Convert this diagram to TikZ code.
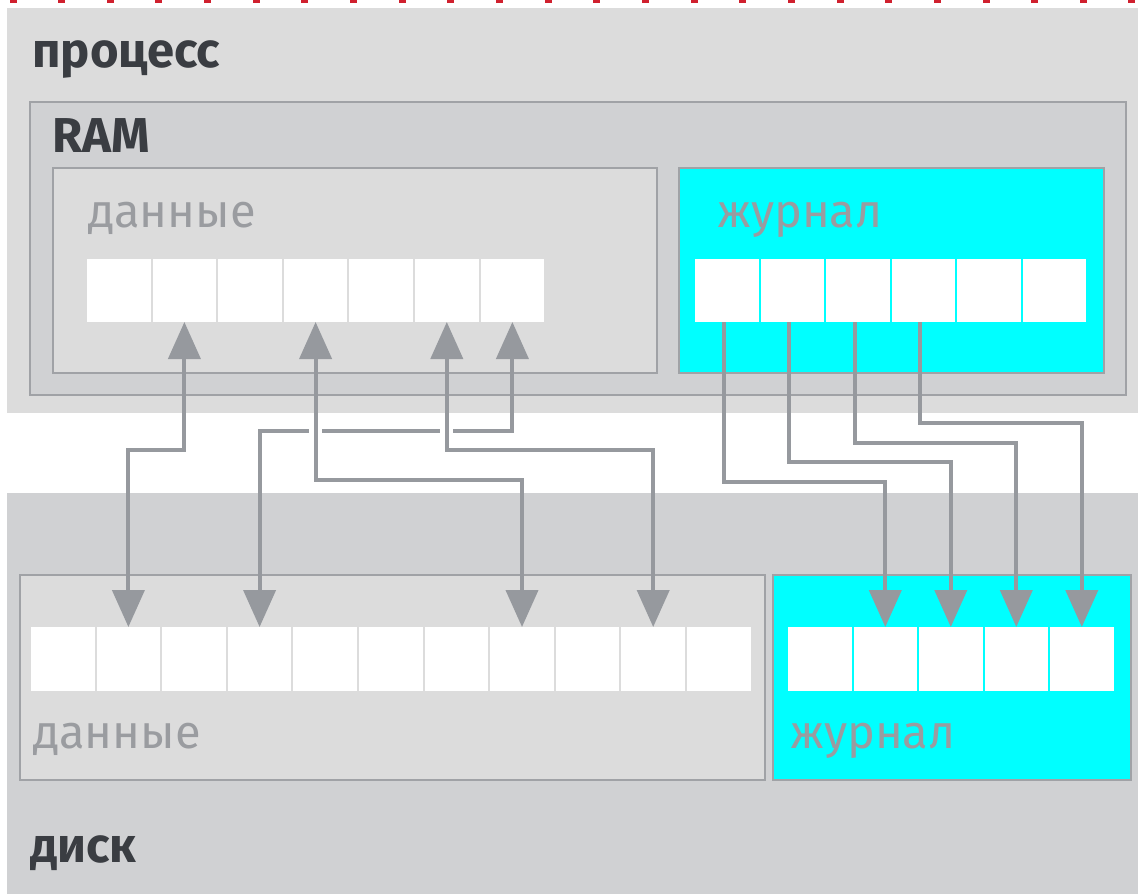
\documentclass[tikz,border=0pt]{standalone}
\usepackage{fontspec}
\setmainfont{Fira Sans}
\usetikzlibrary{arrows.meta}
\definecolor{procbg}{HTML}{DCDCDC}
\definecolor{rambg}{HTML}{D0D1D3}
\definecolor{boxline}{HTML}{A0A2A6}
\definecolor{arrowc}{HTML}{96999E}
\definecolor{darktext}{HTML}{3A3D42}
\definecolor{greytext}{HTML}{9A9CA0}
\definecolor{cyanbox}{HTML}{00FFFF}
\definecolor{reddot}{HTML}{D0202E}
\tikzset{
  area/.style={anchor=north west, inner sep=0pt, outer sep=0pt, draw=none},
  framebox/.style={anchor=north west, inner sep=0pt, outer sep=0pt, draw=boxline, line width=2pt},
  cell/.style={anchor=north west, inner sep=0pt, outer sep=0pt, fill=white, minimum width=63.6pt, minimum height=63pt},
  title/.style={anchor=base west, inner sep=0pt, text=darktext, font=\fontsize{49}{54}\selectfont\bfseries},
  sublabel/.style={anchor=base west, inner sep=0pt, text=greytext, font=\fontsize{47}{52}\selectfont},
  conn/.style={draw=arrowc, line width=4pt},
  halo/.style={draw=white, line width=13pt}
}
\begin{document}
\begin{tikzpicture}[x=1pt,y=-1pt]
\useasboundingbox (0,0) rectangle (1138,894);
\fill[white] (0,0) rectangle (1138,894);
% red dotted top border
\foreach \i in {0,...,23}
  \fill[reddot] ({13+\i*48.65-3.5},0) rectangle ++(7,2.5);
% process area
\node[area, fill=procbg, minimum width=1131pt, minimum height=405pt] (proc) at (7,8) {};
\node[title] (proclabel) at (32,67) {процесс};
% RAM
\node[framebox, fill=rambg, minimum width=1096pt, minimum height=293pt] (ram) at (30,102) {};
\node[title] (ramlabel) at (52,152) {RAM};
\node[framebox, fill=procbg, minimum width=604pt, minimum height=205pt] (ramdata) at (53,168) {};
\node[framebox, fill=cyanbox, minimum width=425pt, minimum height=205pt] (ramlog) at (679,168) {};
\node[sublabel] (ramdatalabel) at (88,227) {данные};
\node[sublabel] (ramloglabel) at (717,227) {журнал};
\foreach \i in {1,...,7}
  \node[cell] (r\i) at ({87+(\i-1)*65.6},259) {};
\foreach \i in {1,...,6}
  \node[cell] (j\i) at ({695+(\i-1)*65.5},259) {};
% disk
\node[area, fill=rambg, minimum width=1131pt, minimum height=401pt] (disk) at (7,493) {};
\node[title] (disklabel) at (30,862) {диск};
\node[framebox, fill=procbg, minimum width=745pt, minimum height=205pt] (diskdata) at (20,575) {};
\node[framebox, fill=cyanbox, minimum width=358pt, minimum height=205pt] (disklog) at (773,575) {};
\node[sublabel] (diskdatalabel) at (33,748) {данные};
\node[sublabel] (diskloglabel) at (790,748) {журнал};
\foreach \i in {1,...,11}
  \node[cell, minimum height=64pt] (k\i) at ({31+(\i-1)*65.6},627) {};
\foreach \i in {1,...,5}
  \node[cell, minimum height=64pt] (l\i) at ({788+(\i-1)*65.5},627) {};
% data connectors (both directions)
\draw[conn, {Triangle[width=32pt,length=37pt]}-{Triangle[width=32pt,length=37pt]}]
  (r7.south) -- (r7.south |- 0,431) -| (k4.north);
\draw[halo] (r4.south |- 0,424) -- (r4.south |- 0,438);
\draw[halo] (r6.south |- 0,424) -- (r6.south |- 0,438);
\draw[conn, {Triangle[width=32pt,length=37pt]}-{Triangle[width=32pt,length=37pt]}]
  (r2.south) -- (r2.south |- 0,450) -| (k2.north);
\draw[conn, {Triangle[width=32pt,length=37pt]}-{Triangle[width=32pt,length=37pt]}]
  (r4.south) -- (r4.south |- 0,480) -| (k8.north);
\draw[conn, {Triangle[width=32pt,length=37pt]}-{Triangle[width=32pt,length=37pt]}]
  (r6.south) -- (r6.south |- 0,450) -| (k10.north);
% log connectors
\draw[conn, -{Triangle[width=32pt,length=37pt]}]
  ([xshift=-3pt]j1.south) -- ([xshift=-3pt]j1.south |- 0,482) -| (l2.north);
\draw[conn, -{Triangle[width=32pt,length=37pt]}]
  ([xshift=-3pt]j2.south) -- ([xshift=-3pt]j2.south |- 0,462) -| (l3.north);
\draw[conn, -{Triangle[width=32pt,length=37pt]}]
  ([xshift=-3pt]j3.south) -- ([xshift=-3pt]j3.south |- 0,443) -| (l4.north);
\draw[conn, -{Triangle[width=32pt,length=37pt]}]
  ([xshift=-3pt]j4.south) -- ([xshift=-3pt]j4.south |- 0,423) -| (l5.north);
\end{tikzpicture}
\end{document}
